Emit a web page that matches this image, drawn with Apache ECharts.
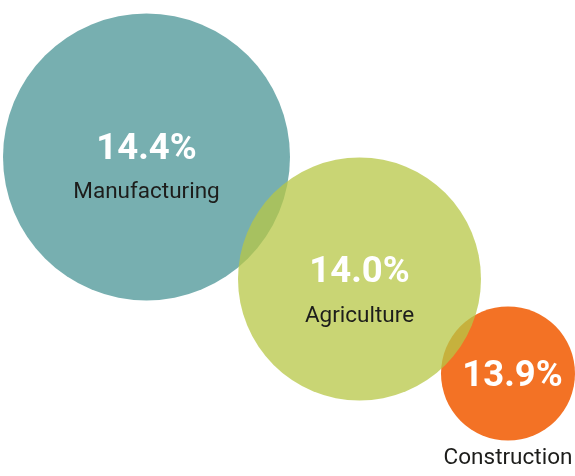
<!DOCTYPE html>
<html>
<head>
<meta charset="utf-8">
<script src="https://cdn.jsdelivr.net/npm/echarts@6/dist/echarts.min.js"></script>
<style>
html,body{margin:0;padding:0;background:#fff;}
#chart{width:575px;height:476px;}
</style>
</head>
<body>
<div id="chart"></div>
<script>
// Data
var categories = ['Manufacturing', 'Agriculture', 'Construction'];
var shares = [14.4, 14.0, 13.9];

// Layout (bubble placement in abstract plot units, and bubble diameters)
var bubbleX = [146.5, 359.5, 508];
var bubbleY = [157, 279, 373.5];
var bubbleDiameter = [287, 243, 134];
var bubbleColor = ['#77afb0', 'rgba(183,199,70,0.75)', '#f37225'];
var bubbleZ = [2, 4, 3];
var nameBelow = [false, false, true];
var labelShift = [15.5, 17, 64.5];

var chart = echarts.init(document.getElementById('chart'), null, {renderer: 'canvas'});

var series = categories.map(function (name, i) {
  var below = nameBelow[i];
  return {
    type: 'scatter',
    name: name,
    z: bubbleZ[i],
    symbol: 'circle',
    symbolSize: bubbleDiameter[i],
    silent: true,
    itemStyle: {color: bubbleColor[i], opacity: 1},
    label: {
      show: true,
      position: 'inside',
      offset: [0, labelShift[i]],
      formatter: function () {
        return '{' + (below ? 'vb' : 'v') + '|' + shares[i].toFixed(1) + '%}\n{' + (below ? 'b' : 'n') + '|' + name + '}';
      },
      rich: {
        v: {fontFamily: 'Roboto', fontWeight: 'bold', fontSize: 36.5, color: '#ffffff', lineHeight: 40, align: 'center'},
        vb: {fontFamily: 'Roboto', fontWeight: 'bold', fontSize: 36.5, color: '#ffffff', lineHeight: 40, align: 'center', padding: [0, 0, 0, 9]},
        n: {fontFamily: 'Roboto', fontWeight: 'normal', fontSize: 22.5, color: '#1d1d1b', lineHeight: 46, align: 'center'},
        b: {fontFamily: 'Roboto', fontWeight: 'normal', fontSize: 22.5, color: '#1d1d1b', lineHeight: 122, align: 'center'}
      }
    },
    data: [[bubbleX[i], bubbleY[i], shares[i]]]
  };
});

chart.setOption({
  animation: false,
  backgroundColor: '#ffffff',
  grid: {left: 0, right: 0, top: 0, bottom: 0},
  xAxis: {type: 'value', min: 0, max: 575, show: false},
  yAxis: {type: 'value', min: 0, max: 476, inverse: true, show: false},
  series: series
});
</script>
</body>
</html>
